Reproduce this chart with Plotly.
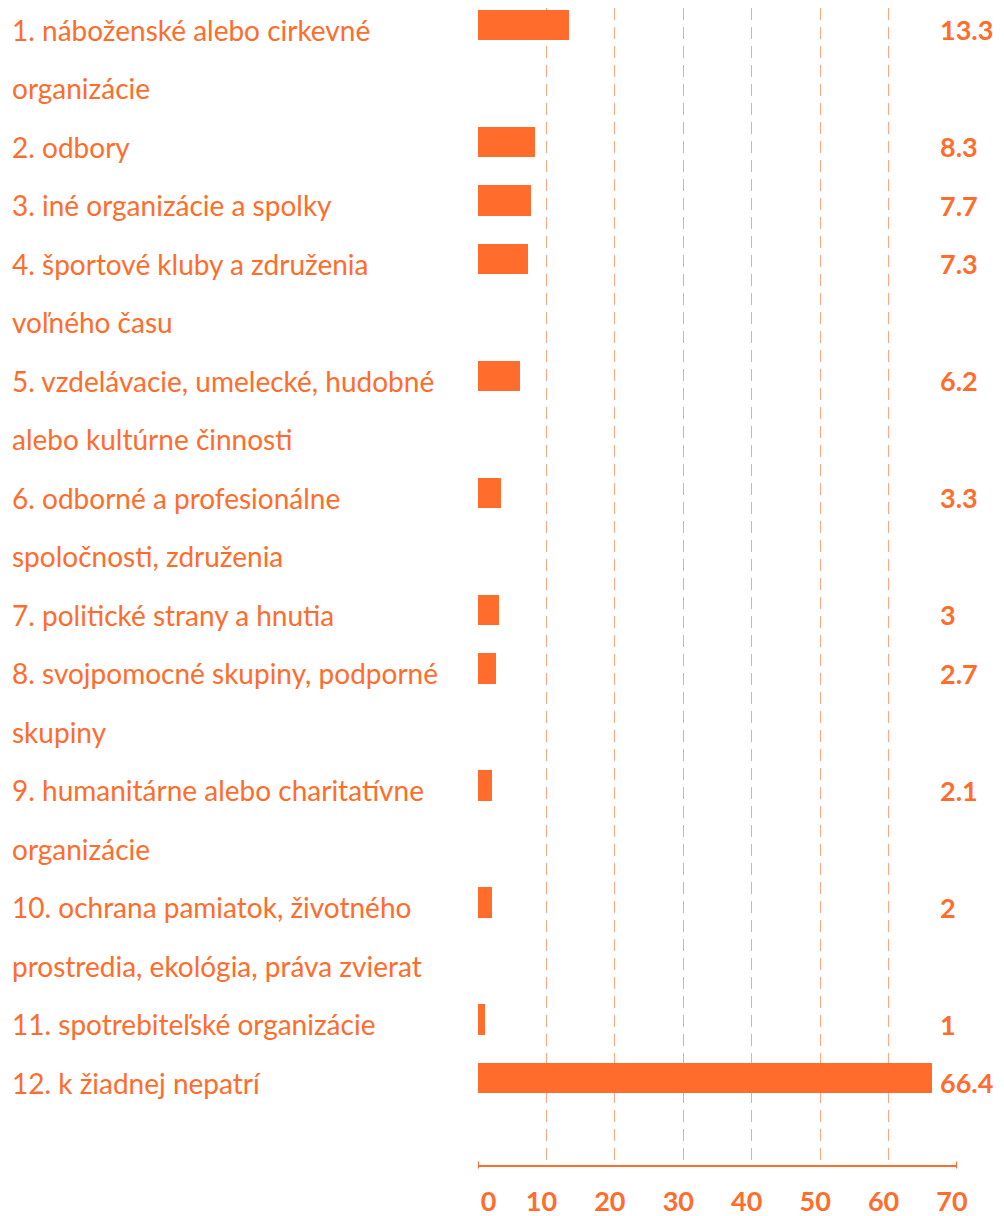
import plotly.graph_objects as go

# item labels (each entry is a list of display lines) and values in %
labels = [
    ["1. náboženské alebo cirkevné", "organizácie"],
    ["2. odbory"],
    ["3. iné organizácie a spolky"],
    ["4. športové kluby a združenia", "voľného času"],
    ["5. vzdelávacie, umelecké, hudobné", "alebo kultúrne činnosti"],
    ["6. odborné a profesionálne", "spoločnosti, združenia"],
    ["7. politické strany a hnutia"],
    ["8. svojpomocné skupiny, podporné", "skupiny"],
    ["9. humanitárne alebo charitatívne", "organizácie"],
    ["10. ochrana pamiatok, životného", "prostredia, ekológia, práva zvierat"],
    ["11. spotrebiteľské organizácie"],
    ["12. k žiadnej nepatrí"],
]
values = [13.3, 8.3, 7.7, 7.3, 6.2, 3.3, 3, 2.7, 2.1, 2, 1, 66.4]
tick_vals = [0, 10, 20, 30, 40, 50, 60, 70]
tick_text = ["\u2007\u20070", "10", "20", "30", "40", "50", "60", "70"]

ORANGE = "#FF6C2C"
GRID = "#FFA57F"
FONT = "Lato"

# each item takes as many text rows as it has lines; bar sits on its first row
slots = []
row = 0
for lab in labels:
    slots.append(row)
    row += len(lab)

fig = go.Figure()
fig.add_trace(go.Bar(
    x=values, y=slots, orientation="h", width=0.52,
    marker=dict(color=ORANGE, line=dict(width=0)),
    hoverinfo="skip",
))

W, H = 1004, 1216
L, R = 478, 957
pw = R - L

def px_to_paper(px):
    return (px - L) / pw

for s, lab, v in zip(slots, labels, values):
    for i, line in enumerate(lab):
        fig.add_annotation(
            x=px_to_paper(10), xref="paper", y=s + i, yref="y",
            text=line, showarrow=False, xanchor="left", yanchor="middle",
            yshift=-5, font=dict(family=FONT, size=28, color=ORANGE),
        )
    fig.add_annotation(
        x=px_to_paper(938), xref="paper", y=s, yref="y",
        text=f"<b>{v:g}</b>", showarrow=False, xanchor="left", yanchor="middle",
        yshift=-5, font=dict(family=FONT, size=27, color=ORANGE),
    )

# end caps on the axis line
for xv in (0, 70):
    fig.add_shape(type="line", x0=xv, x1=xv, xref="x", y0=-0.003, y1=0.003,
                  yref="paper", line=dict(color=ORANGE, width=2))

fig.update_xaxes(
    range=[0, 70], tickvals=tick_vals, ticktext=tick_text, ticks="",
    showline=True, linecolor=ORANGE, linewidth=2, zeroline=False,
    showgrid=True, gridcolor=GRID, griddash="12px,7px", gridwidth=1,
    tickfont=dict(family=FONT, size=27, color=ORANGE, weight="bold"),
    ticklabelstandoff=12, ticklabelshift=-5, automargin=False,
)
fig.update_yaxes(
    range=[19.49, -0.29], showticklabels=False, showgrid=False,
    zeroline=False, showline=False, automargin=False,
)
fig.update_layout(
    width=W, height=H, margin=dict(l=L, r=W - R, t=8, b=H - 1165),
    plot_bgcolor="white", paper_bgcolor="white", showlegend=False,
    bargap=0,
)
# drop the default 8px body margin so the figure fills the window exactly
fig.write_html("out.html", config={"displayModeBar": False},
               post_script="document.body.style.margin='0';")
